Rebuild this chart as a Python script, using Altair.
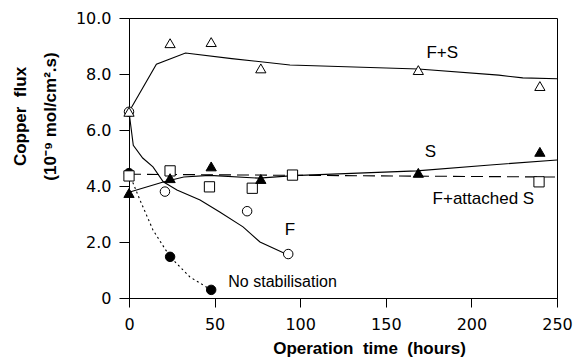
import altair as alt
import pandas as pd

# ---- data ----
fs_pts_x = [0, 24, 48, 77, 169, 240]
fs_pts_y = [6.65, 9.1, 9.14, 8.2, 8.14, 7.57]
fs_fit_x = [0, 16, 33, 60, 94, 169, 216, 230, 250]
fs_fit_y = [6.65, 8.35, 8.75, 8.55, 8.32, 8.18, 7.96, 7.86, 7.83]

s_pts_x = [0, 24, 48, 77, 169, 240]
s_pts_y = [3.75, 4.28, 4.7, 4.25, 4.47, 5.22]
s_fit_x = [0, 20, 32, 47, 76, 96, 130, 168, 211, 250]
s_fit_y = [3.78, 4.14, 4.32, 4.38, 4.28, 4.37, 4.45, 4.54, 4.75, 4.93]

fa_pts_x = [0, 24, 47, 72, 95.5, 239.5]
fa_pts_y = [4.36, 4.54, 3.97, 3.92, 4.39, 4.15]
fa_fit_x = [0, 100, 250]
fa_fit_y = [4.42, 4.38, 4.32]

f_pts_x = [0, 21, 69, 93]
f_pts_y = [6.65, 3.8, 3.1, 1.57]
f_fit_x = [0, 2.5, 8, 14, 20, 28, 41.5, 53, 66.6, 76.5, 93]
f_fit_y = [6.65, 5.45, 5.0, 4.68, 4.15, 3.86, 3.5, 3.07, 2.54, 2.0, 1.54]

ns_pts_x = [0, 24, 48]
ns_pts_y = [4.46, 1.47, 0.29]
ns_fit_x = [0, 6.4, 14, 24, 35.6, 48]
ns_fit_y = [4.46, 3.5, 2.43, 1.47, 0.75, 0.29]

lab_text = ["F+S", "S", "F+attached S", "F"]
lab_x = [183, 176, 207, 94]
lab_y = [8.75, 5.2, 3.55, 2.43]
ns_label = "No stabilisation"
ns_label_x = [58]
ns_label_y = [0.57]

x_ticks = [0, 50, 100, 150, 200, 250]
y_ticks = [0, 2, 4, 6, 8, 10]

# ---- chart ----
xs = alt.Scale(domain=[0, 250], nice=False, zero=False)
ys = alt.Scale(domain=[0, 10], nice=False)

X = alt.X("x:Q", scale=xs, axis=alt.Axis(
    values=x_ticks, title="Operation\u00a0 time\u00a0 (hours)", titleFontWeight="bold",
    titleFont="Liberation Sans", titleFontSize=17, titleX=240, titleY=42,
    titleBaseline="top", titleAlign="center", tickSize=9, labelPadding=9,
    labelFlush=False))
Y = alt.Y("y:Q", scale=ys, axis=alt.Axis(
    values=y_ticks, title=["Copper\u00a0 flux", "(10\u207b\u2079 mol/cm\u00b2.s)"],
    titleFontWeight="bold", titleFont="Liberation Sans", titleFontSize=17,
    titleLineHeight=30, titleX=-117, titleY=98, titleBaseline="top",
    titleAlign="center", titleAngle=270, tickSize=10, labelPadding=8,
    labelExpr="datum.value == 0 ? '0' : format(datum.value, '.1f')"))


def df(xv, yv):
    return pd.DataFrame({"x": xv, "y": yv})


def line(xv, yv, dash=None):
    kw = dict(color="black", strokeWidth=1.1)
    if dash:
        kw["strokeDash"] = dash
    return alt.Chart(df(xv, yv)).mark_line(**kw).encode(x=X, y=Y)


def pts(xv, yv, shape, filled):
    return alt.Chart(df(xv, yv)).mark_point(
        shape=shape, filled=True, fill="black" if filled else "white",
        stroke="black", strokeWidth=1, size=105 if shape != "circle" else 90,
        opacity=1).encode(x=X, y=Y)


labels = alt.Chart(pd.DataFrame({"x": lab_x, "y": lab_y, "t": lab_text})).mark_text(
    font="Liberation Sans", fontSize=17, color="black", align="center", baseline="middle"
).encode(x=X, y=Y, text="t:N")
ns_lab = alt.Chart(pd.DataFrame({"x": ns_label_x, "y": ns_label_y, "t": [ns_label]})).mark_text(
    font="Liberation Sans", fontSize=16, color="black", align="left", baseline="middle"
).encode(x=X, y=Y, text="t:N")

chart = alt.layer(
    line(fs_fit_x, fs_fit_y),
    line(s_fit_x, s_fit_y),
    line(fa_fit_x, fa_fit_y, [12, 6]),
    line(f_fit_x, f_fit_y),
    line(ns_fit_x, ns_fit_y, [2, 3]),
    pts(f_pts_x, f_pts_y, "circle", False),
    pts(ns_pts_x, ns_pts_y, "circle", True),
    pts(fa_pts_x, fa_pts_y, "square", False),
    pts(s_pts_x, s_pts_y, "triangle-up", True),
    pts(fs_pts_x, fs_pts_y, "triangle-up", False),
    labels, ns_lab,
).properties(
    width=428, height=280,
    autosize=alt.AutoSizeParams(type="none"),
    padding={"left": 121, "top": 10, "right": 20, "bottom": 62},
).configure_view(
    stroke="black", strokeWidth=1
).configure_axis(
    grid=False, domainColor="black", tickColor="black", labelColor="black",
    titleColor="black", labelFont="DejaVu Sans", labelFontSize=16,
    domainWidth=1, tickWidth=1
)

chart.save("out.html", embed_options={"renderer": "svg", "actions": False})
